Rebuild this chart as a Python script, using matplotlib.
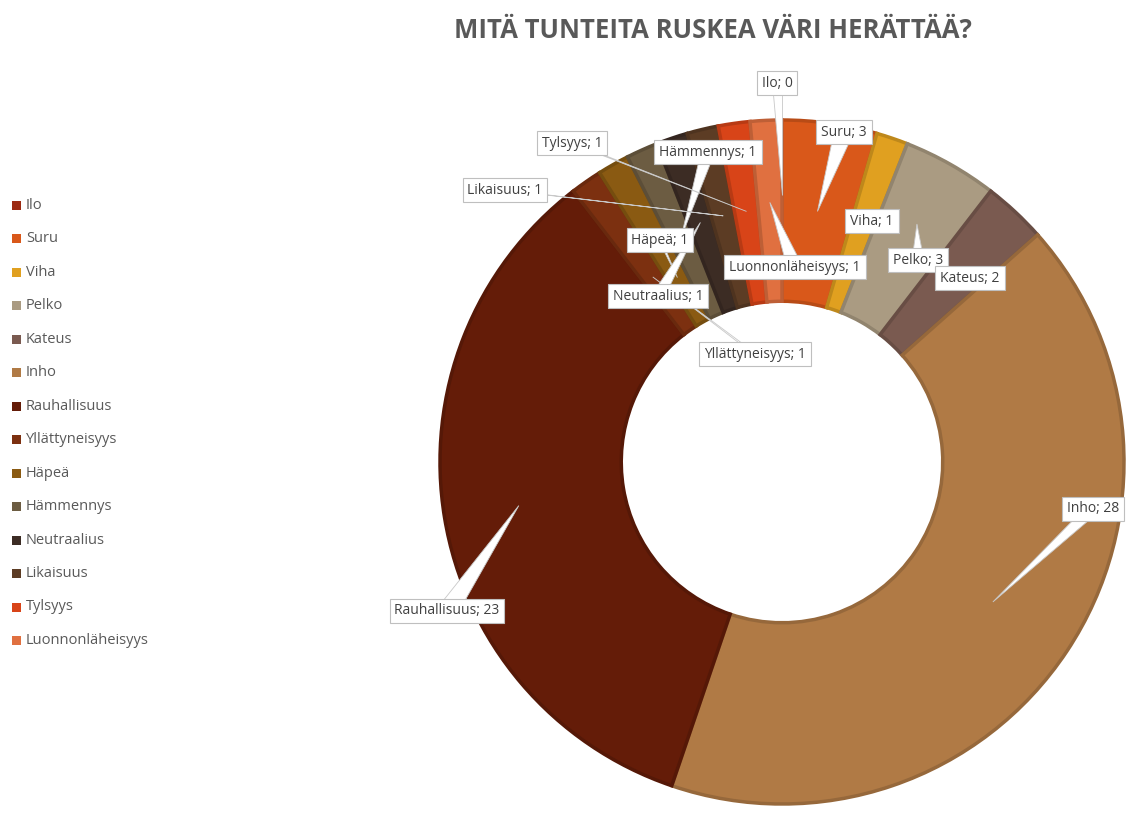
import numpy as np
import matplotlib.pyplot as plt
from matplotlib.patches import Rectangle, Polygon
from matplotlib.colors import to_rgb

plt.rcParams['font.family'] = ['Open Sans', 'DejaVu Sans']

tunteet = ['Ilo', 'Suru', 'Viha', 'Pelko', 'Kateus', 'Inho', 'Rauhallisuus',
           'Yllättyneisyys', 'Häpeä', 'Hämmennys', 'Neutraalius', 'Likaisuus',
           'Tylsyys', 'Luonnonläheisyys']
maarat = [0, 3, 1, 3, 2, 28, 23, 1, 1, 1, 1, 1, 1, 1]
varit = ['#9c2a12', '#d9581a', '#e0a020', '#aa9b82', '#7a5a50', '#b07a45', '#641c08',
         '#7c3010', '#8a5a12', '#6c5c42', '#3c2c24', '#5c3c24', '#d84418', '#e07040']

# label box centres (pixels) and leader style: (x, y, radius fraction of tip, base half-width)
etiketit = {
    'Ilo': (777, 83, 0.78, 5),
    'Suru': (844, 132, 0.74, 10),
    'Viha': (872, 221, None, 0),
    'Pelko': (918, 260, 0.8, 6),
    'Kateus': (970, 278, None, 0),
    'Inho': (1093, 509, 0.74, 9),
    'Rauhallisuus': (447, 611, 0.78, 12),
    'Yllättyneisyys': (755, 354, 0.66, 1.5),
    'Häpeä': (660, 240, 0.62, 1.5),
    'Hämmennys': (708, 152, 0.72, 7),
    'Neutraalius': (658, 296, 0.74, 7),
    'Likaisuus': (505, 190, 0.74, 1.5),
    'Tylsyys': (572, 143, 0.74, 1.5),
    'Luonnonläheisyys': (795, 267, 0.76, 8),
}

W, H = 1131, 817
fig = plt.figure(figsize=(W / 100, H / 100), dpi=100)
ax = fig.add_axes([0, 0, 1, 1])

cx, cy, R = 782, H - 462, 342
rengas = 0.53

def tumma(c, k=0.8):
    r, g, b = to_rgb(c)
    return (r * k, g * k, b * k)

wedges, _ = ax.pie(maarat, colors=varit, startangle=90, counterclock=False,
                   center=(cx, cy), radius=R, frame=True,
                   wedgeprops=dict(width=R * rengas, linewidth=0))
for w, c in zip(wedges, varit):
    w.set_edgecolor(tumma(c, 0.85))
    w.set_linewidth(2.5)
ax.set_xlim(0, W)
ax.set_ylim(0, H)
ax.set_aspect('equal')
ax.axis('off')

total = sum(maarat)
kulma = 0.0
for nimi, arvo in zip(tunteet, maarat):
    mid = (kulma + arvo / 2) / total * 2 * np.pi
    kulma += arvo
    bx, by, rf, hw = etiketit[nimi]
    by = H - by
    if rf is not None:
        tx = cx + rf * R * np.sin(mid)
        ty = cy + rf * R * np.cos(mid)
        ax.add_patch(Polygon([(bx - hw, by), (bx + hw, by), (tx, ty)], closed=True,
                             fc='white', ec='#c8c8c8', lw=0.6, zorder=3))
    ax.text(bx, by, f'{nimi}; {arvo}', ha='center', va='center', fontsize=10,
            color='#404040', zorder=5,
            bbox=dict(boxstyle='square,pad=0.35', fc='white', ec='#bfbfbf', lw=0.8))

# legend
for i, (nimi, c) in enumerate(zip(tunteet, varit)):
    y = H - (205 + i * 33.5)
    ax.add_patch(Rectangle((12, y - 4.5), 9, 9, fc=c, ec='none'))
    ax.text(26, y, nimi, ha='left', va='center', fontsize=10.5, color='#595959')

ax.text(713, H - 30, 'MITÄ TUNTEITA RUSKEA VÄRI HERÄTTÄÄ?', ha='center', va='center',
        fontsize=18.5, fontweight='bold', color='#595959')

fig.savefig('out.png', dpi=100)
